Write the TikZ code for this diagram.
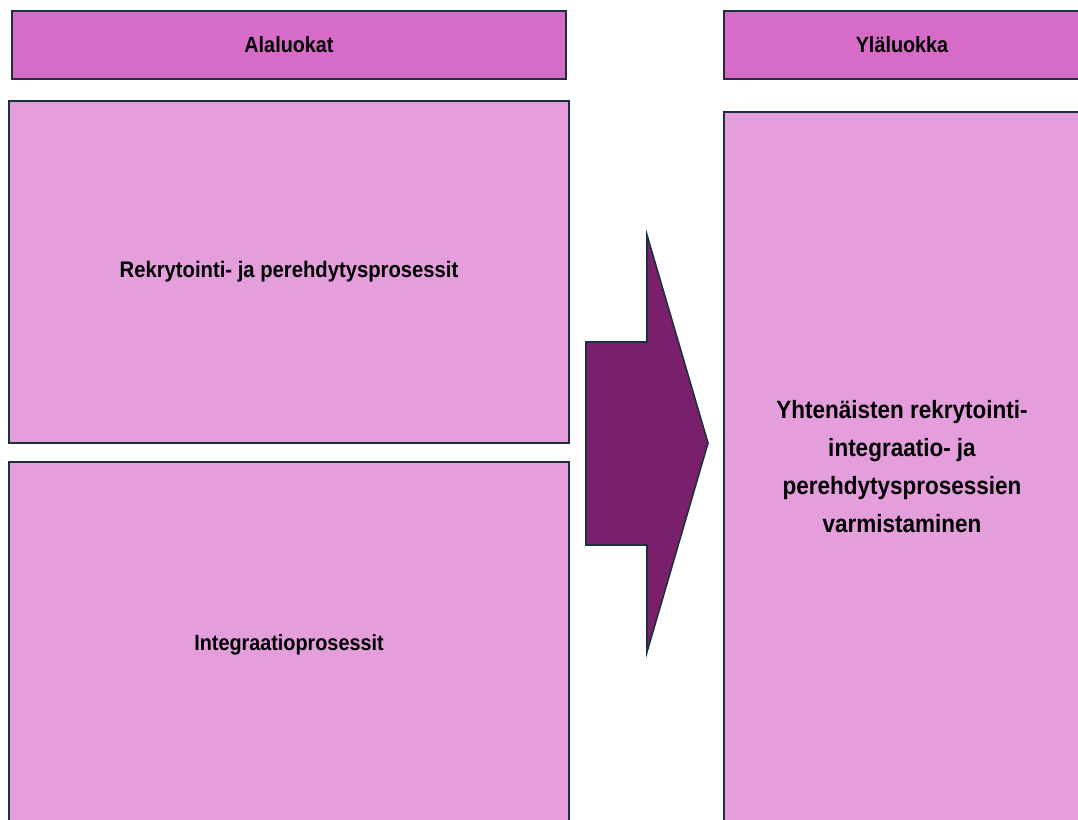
\documentclass[tikz,border=0pt]{standalone}
\usepackage{fontspec}
\setmainfont{Liberation Sans}[FakeStretch=0.9]
\usetikzlibrary{calc}

\definecolor{headpink}{HTML}{D76CC8}
\definecolor{boxpink}{HTML}{E39EDB}
\definecolor{arrowplum}{HTML}{7A1F6B}
\definecolor{edgenavy}{HTML}{1C3040}

\begin{document}
\begin{tikzpicture}[x=1pt,y=-1pt,
  box/.style={draw=edgenavy,line width=1.6pt,fill=boxpink,align=center,inner sep=0pt,
    font=\bfseries\fontsize{22}{38}\selectfont},
  headbox/.style={box,fill=headpink}]
\useasboundingbox (0,0) rectangle (1078,819); %kuvan koko

\node[headbox,minimum width=554pt,minimum height=68pt] (alahead) at (289,45) {Alaluokat};
\node[headbox,minimum width=356pt,minimum height=68pt] (ylahead) at (902,45) {Yläluokka};

\node[box,minimum width=560pt,minimum height=342pt,font=\bfseries\fontsize{22.5}{38}\selectfont] (rekry) at (289,272) {Rekrytointi- ja perehdytysprosessit};
\node[box,minimum width=560pt,minimum height=366pt] (integ) at (289,645) {Integraatioprosessit};
\node[box,minimum width=356pt,minimum height=710pt,font=\bfseries\fontsize{25}{38}\selectfont] (yla) at (902,467)
  {Yhtenäisten rekrytointi-\\integraatio- ja\\perehdytysprosessien\\varmistaminen};

% iso nuoli
\filldraw[draw=edgenavy,line width=1.6pt,fill=arrowplum,line join=miter]
  (586,342) -- (647,342) -- (647,235) -- (708,443) -- (647,652) -- (647,545) -- (586,545) -- cycle;
\end{tikzpicture}
\end{document}
